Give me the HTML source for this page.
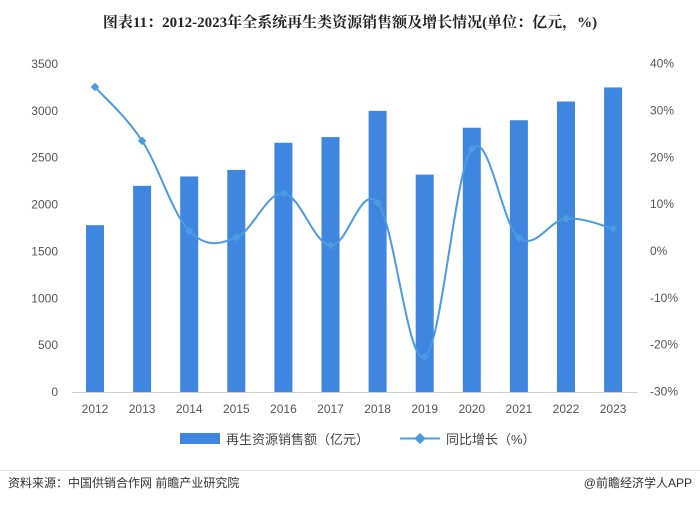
<!DOCTYPE html>
<html><head><meta charset="utf-8"><style>
body{margin:0;background:#fff;}
svg text{font-family:"Liberation Sans","Noto Sans CJK SC",sans-serif;}
</style></head><body>
<svg id="s" width="700" height="503" viewBox="0 0 700 503" xmlns="http://www.w3.org/2000/svg">
<rect width="700" height="503" fill="#fff"/>
<text x="350" y="27" text-anchor="middle" font-size="15" font-weight="bold" fill="#222" style="font-family:'Liberation Serif','Noto Serif CJK SC',serif">图表11：2012-2023年全系统再生类资源销售额及增长情况(单位：亿元，%)</text>
<line x1="72" y1="392.5" x2="638" y2="392.5" stroke="#d0d0d0"/>
<g id="bars"></g>
<path id="ln" fill="none" stroke="#4a9be0" stroke-width="2"/>
<g id="pts"></g>
<g font-size="12" fill="#555" id="lab"></g>
<rect x="180" y="433" width="40" height="11" fill="#3e86e0"/>
<text x="226" y="444" font-size="13" fill="#444">再生资源销售额（亿元）</text>
<line x1="400" y1="438.5" x2="440" y2="438.5" stroke="#4a9be0" stroke-width="2"/>
<rect x="416" y="434.5" width="8" height="8" fill="#4a9be0" transform="rotate(45 420 438.5)"/>
<text x="446" y="444" font-size="13" fill="#444">同比增长（%）</text>
<line x1="0" y1="470.5" x2="700" y2="470.5" stroke="#ddd"/>
<text x="8" y="487" font-size="12" fill="#333">资料来源：中国供销合作网 前瞻产业研究院</text>
<text x="692" y="487" font-size="12" fill="#333" text-anchor="end">@前瞻经济学人APP</text>
</svg>
<script>
var ns="http://www.w3.org/2000/svg";
var vals=[1780,2200,2300,2370,2660,2720,3000,2320,2820,2900,3100,3250];
var g=[35,23.5,4.3,2.9,12.3,1.2,10.3,-22.6,21.8,2.8,6.9,4.8];
function X(i){return 95+i*47.1;}
function Yl(v){return 392-v*(328/3500);}
function Yr(p){return 251-p*(328/70);}
var b=document.getElementById('bars'),lab=document.getElementById('lab'),pts=document.getElementById('pts');
function el(t,a,p,txt){var e=document.createElementNS(ns,t);for(var k in a)e.setAttribute(k,a[k]);if(txt)e.textContent=txt;p.appendChild(e);}
vals.forEach(function(v,i){el('rect',{x:X(i)-9,y:Yl(v),width:18,height:392-Yl(v),fill:'#3e86e0'},b);
el('text',{x:X(i),y:413,'text-anchor':'middle'},lab,String(2012+i));});
for(var v=0;v<=3500;v+=500)el('text',{x:58,y:Yl(v)+4,'text-anchor':'end'},lab,String(v));
for(var p=-30;p<=40;p+=10)el('text',{x:650,y:Yr(p)+4},lab,p+'%');
var P=g.map(function(p,i){return [X(i),Yr(p)];});
var d='M'+P[0][0]+','+P[0][1];
for(var i=0;i<P.length-1;i++){var p0=P[i-1]||P[i],p1=P[i],p2=P[i+1],p3=P[i+2]||p2;var t=0.18;
d+=' C'+(p1[0]+(p2[0]-p0[0])*t)+','+(p1[1]+(p2[1]-p0[1])*t)+' '+(p2[0]-(p3[0]-p1[0])*t)+','+(p2[1]-(p3[1]-p1[1])*t)+' '+p2[0]+','+p2[1];}
document.getElementById('ln').setAttribute('d',d);
P.forEach(function(q){el('rect',{x:q[0]-3,y:q[1]-3,width:6,height:6,fill:'#4a9be0',transform:'rotate(45 '+q[0]+' '+q[1]+')'},pts);});
</script>
</body></html>
